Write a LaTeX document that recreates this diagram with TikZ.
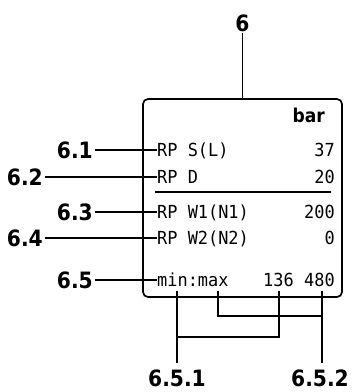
\documentclass[tikz,border=0pt]{standalone}
\usepackage{fontspec}
\usepackage{tikz}
\usetikzlibrary{positioning, calc}
\setmainfont{DejaVu Sans}
\newfontfamily\calloutfont{DejaVu Sans Condensed}[BoldFont={* Bold}]
\newfontfamily\screenfont{DejaVu Sans Mono}[FakeStretch=0.94]

\begin{document}
\begin{tikzpicture}[
    x=1bp, y=-1bp,
    callout/.style={font=\calloutfont\bfseries\fontsize{22.5bp}{22.5bp}\selectfont,
                    inner sep=2bp, text height=16.4bp, text depth=0pt},
    screen/.style={font=\screenfont\fontsize{18bp}{18bp}\selectfont,
                   inner sep=0pt, text height=13.1bp, text depth=0pt, anchor=west},
    value/.style={screen, anchor=east},
    panel/.style={draw, line width=1.7bp, rounded corners=5bp,
                  minimum width=199bp, minimum height=198bp},
    leader/.style={line width=1.3bp}
]
    \useasboundingbox (0,0) rectangle (353,392);

    % display panel
    \node[panel] (display) at (242.5,198) {};
    \node[screen, anchor=east, font=\calloutfont\bfseries\fontsize{19bp}{19bp}\selectfont,
          text height=14bp] (unit) at (325,115) {bar};
    \node[screen] (rowS) at (157,150) {RP S(L)};
    \node[screen] (rowD) at (157,177) {RP D};
    \node[screen] (rowW1) at (157,212) {RP W1(N1)};
    \node[screen] (rowW2) at (157,238) {RP W2(N2)};
    \node[screen] (minmax) at (157,280) {min:max};
    \node[value] (valS) at (335,150) {37};
    \node[value] (valD) at (335,177) {20};
    \node[value] (valW1) at (335,212) {200};
    \node[value] (valW2) at (335,238) {0};
    \node[value] (val136) at (294,280) {136};
    \node[value] (val480) at (335,280) {480};
    \draw[line width=1.3bp] (155,192) -- (331,192);

    % callouts
    \node[callout] (l6) at (242.5,23) {6};
    \node[callout, left=62bp of rowS] (l61) {6.1};
    \node[callout, left=112bp of rowD] (l62) {6.2};
    \node[callout, left=62bp of rowW1] (l63) {6.3};
    \node[callout, left=112bp of rowW2] (l64) {6.4};
    \node[callout, left=62bp of minmax] (l65) {6.5};
    \node[callout] (l651) at (177,378) {6.5.1};
    \node[callout] (l652) at (320,378) {6.5.2};

    \draw[leader] (l6) -- (display.north);
    \draw[leader] (l61) -- (rowS);
    \draw[leader] (l62) -- (rowD);
    \draw[leader] (l63) -- (rowW1);
    \draw[leader] (l64) -- (rowW2);
    \draw[leader] (l65) -- (minmax);

    % min / max pointers
    \coordinate (tapMin) at (177,291);
    \coordinate (tapMax) at (218,291);
    \coordinate (tap136) at (279,291);
    \coordinate (tap480) at (322,291);
    \coordinate (join1) at (177,337);
    \coordinate (join2) at (322,316);
    \draw[leader, shorten >=5bp] (tapMin) -- (tapMin |- l651.north);
    \draw[leader] (tap136) |- (join1);
    \draw[leader] (tapMax) |- (join2);
    \draw[leader, shorten >=5bp] (tap480) -- (tap480 |- l652.north);
\end{tikzpicture}
\end{document}
